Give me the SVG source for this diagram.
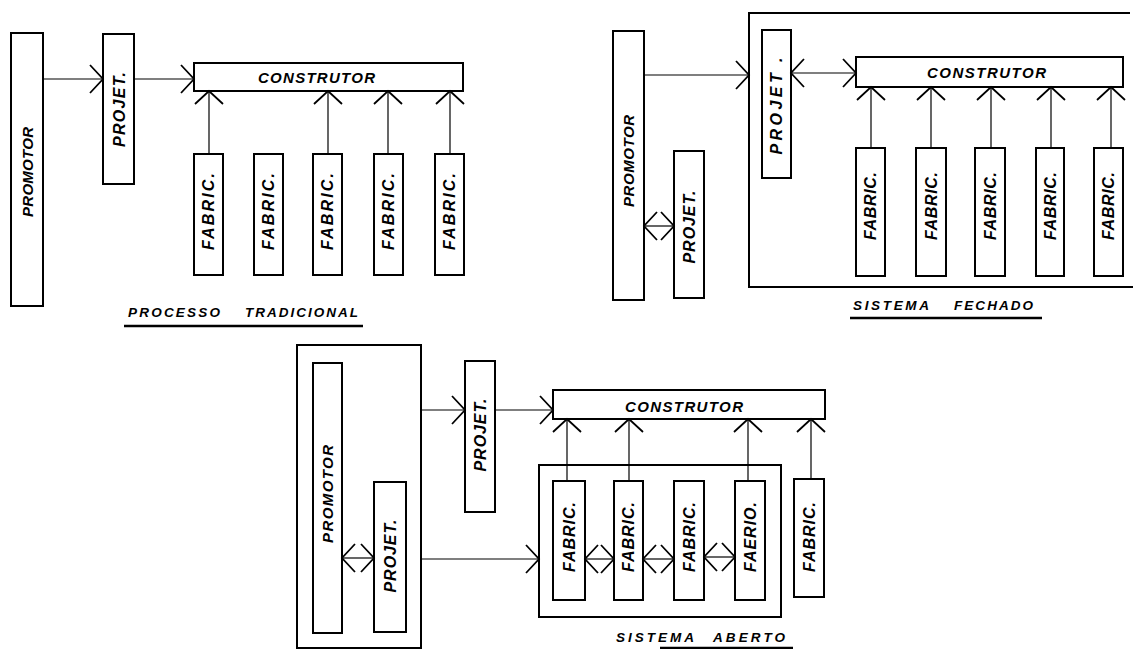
<svg xmlns="http://www.w3.org/2000/svg" width="1133" height="649" viewBox="0 0 1133 649">
  <style>
    .box { fill: none; stroke: #000; stroke-width: 2; }
    .wire { fill: none; stroke: #000; stroke-width: 1.2; }
    .to { marker-end: url(#head); }
    .both { marker-start: url(#head); marker-end: url(#head); }
    .lbl { font-family: "Liberation Sans", Arial, sans-serif; font-style: italic; font-weight: bold; font-size: 15px; fill: #000; }
    .big { font-size: 16px; }
    .cap { font-family: "Liberation Sans", Arial, sans-serif; font-style: italic; font-weight: bold; font-size: 13.5px; fill: #000; }
    .rule { stroke: #000; stroke-width: 2.5; }
  </style>
  <defs>
    <!-- open V arrowhead, drawn in user units so all heads share one size -->
    <marker id="head" markerUnits="userSpaceOnUse" viewBox="-16 -16 18 32" refX="0" refY="0" markerWidth="18" markerHeight="32" orient="auto-start-reverse">
      <path d="M-13,-14 L0,0 L-13,14" fill="none" stroke="#000" stroke-width="1.8"/>
    </marker>
  </defs>
  <rect width="1133" height="649" fill="#fff"/>

  <!-- ===== Processo tradicional ===== -->
  <g id="t-promotor">
    <rect class="box" x="11" y="33" width="32" height="273"/>
    <text class="lbl" transform="translate(27.5,172) rotate(-90)" x="0" y="5.4" text-anchor="middle" textLength="90" lengthAdjust="spacing">PROMOTOR</text>
  </g>
  <g id="t-projet">
    <rect class="box" x="103" y="34" width="31" height="150"/>
    <text class="lbl big" transform="translate(119,109.5) rotate(-90)" x="0" y="5.8" text-anchor="middle" textLength="75" lengthAdjust="spacing">PROJET.</text>
  </g>
  <g id="t-construtor">
    <rect class="box" x="194" y="63" width="269" height="28"/>
    <text class="lbl" x="258" y="83" textLength="117" lengthAdjust="spacing">CONSTRUTOR</text>
  </g>
  <g id="t-fabric-1">
    <rect class="box" x="194" y="154" width="29" height="121"/>
    <text class="lbl big" transform="translate(208.5,211.5) rotate(-90)" x="0" y="5.8" text-anchor="middle" textLength="77" lengthAdjust="spacing">FABRIC.</text>
  </g>
  <g id="t-fabric-2">
    <rect class="box" x="254" y="154" width="29" height="121"/>
    <text class="lbl big" transform="translate(268.5,211.5) rotate(-90)" x="0" y="5.8" text-anchor="middle" textLength="77" lengthAdjust="spacing">FABRIC.</text>
  </g>
  <g id="t-fabric-3">
    <rect class="box" x="313" y="154" width="29" height="121"/>
    <text class="lbl big" transform="translate(327.5,211.5) rotate(-90)" x="0" y="5.8" text-anchor="middle" textLength="77" lengthAdjust="spacing">FABRIC.</text>
  </g>
  <g id="t-fabric-4">
    <rect class="box" x="374" y="154" width="29" height="121"/>
    <text class="lbl big" transform="translate(388.5,211.5) rotate(-90)" x="0" y="5.8" text-anchor="middle" textLength="77" lengthAdjust="spacing">FABRIC.</text>
  </g>
  <g id="t-fabric-5">
    <rect class="box" x="435" y="154" width="29" height="121"/>
    <text class="lbl big" transform="translate(449.5,211.5) rotate(-90)" x="0" y="5.8" text-anchor="middle" textLength="77" lengthAdjust="spacing">FABRIC.</text>
  </g>
  <g id="t-caption">
    <text class="cap" x="128" y="317" textLength="92" lengthAdjust="spacing">PROCESSO</text>
    <text class="cap" x="245" y="317" textLength="113" lengthAdjust="spacing">TRADICIONAL</text>
    <line class="rule" x1="124" y1="326" x2="363" y2="326"/>
  </g>

  <!-- ===== Sistema fechado ===== -->
  <g id="f-enclosure">
    <path class="box" d="M1130,13 H749 V287 H1133"/>
  </g>
  <g id="f-promotor">
    <rect class="box" x="613" y="31" width="31" height="269"/>
    <text class="lbl" transform="translate(628.5,161) rotate(-90)" x="0" y="5.4" text-anchor="middle" textLength="92" lengthAdjust="spacing">PROMOTOR</text>
  </g>
  <g id="f-projet-own">
    <rect class="box" x="674" y="151" width="30" height="147"/>
    <text class="lbl big" transform="translate(689,227) rotate(-90)" x="0" y="5.8" text-anchor="middle" textLength="73" lengthAdjust="spacing">PROJET.</text>
  </g>
  <g id="f-projet">
    <rect class="box" x="762" y="30" width="29" height="148"/>
    <text class="lbl big" transform="translate(776.5,106) rotate(-90)" x="0" y="5.8" text-anchor="middle" textLength="97" lengthAdjust="spacing">PROJET .</text>
  </g>
  <g id="f-construtor">
    <rect class="box" x="856" y="57" width="267" height="30"/>
    <text class="lbl" x="927" y="78" textLength="119" lengthAdjust="spacing">CONSTRUTOR</text>
  </g>
  <g id="f-fabric-1">
    <rect class="box" x="856" y="148" width="29" height="128"/>
    <text class="lbl big" transform="translate(870.5,206) rotate(-90)" x="0" y="5.8" text-anchor="middle" textLength="68" lengthAdjust="spacing">FABRIC.</text>
  </g>
  <g id="f-fabric-2">
    <rect class="box" x="916" y="148" width="30" height="128"/>
    <text class="lbl big" transform="translate(931,206) rotate(-90)" x="0" y="5.8" text-anchor="middle" textLength="68" lengthAdjust="spacing">FABRIC.</text>
  </g>
  <g id="f-fabric-3">
    <rect class="box" x="975" y="148" width="30" height="128"/>
    <text class="lbl big" transform="translate(990,206) rotate(-90)" x="0" y="5.8" text-anchor="middle" textLength="68" lengthAdjust="spacing">FABRIC.</text>
  </g>
  <g id="f-fabric-4">
    <rect class="box" x="1036" y="148" width="28" height="128"/>
    <text class="lbl big" transform="translate(1050,206) rotate(-90)" x="0" y="5.8" text-anchor="middle" textLength="68" lengthAdjust="spacing">FABRIC.</text>
  </g>
  <g id="f-fabric-5">
    <rect class="box" x="1094" y="148" width="29" height="128"/>
    <text class="lbl big" transform="translate(1108.5,206) rotate(-90)" x="0" y="5.8" text-anchor="middle" textLength="68" lengthAdjust="spacing">FABRIC.</text>
  </g>
  <g id="f-caption">
    <text class="cap" x="853" y="310" textLength="76" lengthAdjust="spacing">SISTEMA</text>
    <text class="cap" x="954" y="310" textLength="79" lengthAdjust="spacing">FECHADO</text>
    <line class="rule" x1="850" y1="318" x2="1042" y2="318"/>
  </g>

  <!-- ===== Sistema aberto ===== -->
  <g id="a-owner">
    <rect class="box" x="297" y="345" width="124" height="303"/>
  </g>
  <g id="a-promotor">
    <rect class="box" x="313" y="363" width="29" height="270"/>
    <text class="lbl" transform="translate(327.5,494) rotate(-90)" x="0" y="5.4" text-anchor="middle" textLength="98" lengthAdjust="spacing">PROMOTOR</text>
  </g>
  <g id="a-projet-own">
    <rect class="box" x="374" y="482" width="32" height="150"/>
    <text class="lbl big" transform="translate(390,556) rotate(-90)" x="0" y="5.8" text-anchor="middle" textLength="73" lengthAdjust="spacing">PROJET.</text>
  </g>
  <g id="a-projet">
    <rect class="box" x="465" y="361" width="30" height="151"/>
    <text class="lbl big" transform="translate(480,435) rotate(-90)" x="0" y="5.8" text-anchor="middle" textLength="73" lengthAdjust="spacing">PROJET.</text>
  </g>
  <g id="a-construtor">
    <rect class="box" x="553" y="390" width="272" height="29"/>
    <text class="lbl" x="625" y="412" textLength="118" lengthAdjust="spacing">CONSTRUTOR</text>
  </g>
  <g id="a-group">
    <rect class="box" x="539" y="465" width="242" height="152"/>
  </g>
  <g id="a-fabric-1">
    <rect class="box" x="553" y="481" width="32" height="119"/>
    <text class="lbl big" transform="translate(569,537) rotate(-90)" x="0" y="5.8" text-anchor="middle" textLength="70" lengthAdjust="spacing">FABRIC.</text>
  </g>
  <g id="a-fabric-2">
    <rect class="box" x="614" y="481" width="29" height="119"/>
    <text class="lbl big" transform="translate(628.5,537) rotate(-90)" x="0" y="5.8" text-anchor="middle" textLength="70" lengthAdjust="spacing">FABRIC.</text>
  </g>
  <g id="a-fabric-3">
    <rect class="box" x="674" y="481" width="30" height="119"/>
    <text class="lbl big" transform="translate(689,537) rotate(-90)" x="0" y="5.8" text-anchor="middle" textLength="70" lengthAdjust="spacing">FABRIC.</text>
  </g>
  <g id="a-fabric-4">
    <rect class="box" x="735" y="481" width="30" height="119"/>
    <text class="lbl big" transform="translate(750,537) rotate(-90)" x="0" y="5.8" text-anchor="middle" textLength="70" lengthAdjust="spacing">FAERIO.</text>
  </g>
  <g id="a-fabric-5">
    <rect class="box" x="794" y="479" width="30" height="118"/>
    <text class="lbl big" transform="translate(809,537) rotate(-90)" x="0" y="5.8" text-anchor="middle" textLength="70" lengthAdjust="spacing">FABRIC.</text>
  </g>
  <g id="a-caption">
    <text class="cap" x="616" y="642" textLength="78" lengthAdjust="spacing">SISTEMA</text>
    <text class="cap" x="713" y="642" textLength="72" lengthAdjust="spacing">ABERTO</text>
    <line class="rule" x1="660" y1="648" x2="793" y2="648"/>
  </g>

  <!-- ===== connectors ===== -->
  <g id="connectors">
    <!-- tradicional -->
    <line class="wire to" x1="43" y1="79" x2="103" y2="79"/>
    <line class="wire to" x1="134" y1="79" x2="194" y2="79"/>
    <line class="wire to" x1="209" y1="154" x2="209" y2="91"/>
    <line class="wire to" x1="328" y1="154" x2="328" y2="91"/>
    <line class="wire to" x1="388" y1="154" x2="388" y2="91"/>
    <line class="wire to" x1="450" y1="154" x2="450" y2="91"/>
    <!-- fechado -->
    <line class="wire both" x1="644" y1="226" x2="674" y2="226"/>
    <line class="wire to" x1="644" y1="75" x2="749" y2="75"/>
    <line class="wire both" x1="791" y1="73" x2="856" y2="73"/>
    <line class="wire to" x1="871" y1="148" x2="871" y2="87"/>
    <line class="wire to" x1="931" y1="148" x2="931" y2="87"/>
    <line class="wire to" x1="991" y1="148" x2="991" y2="87"/>
    <line class="wire to" x1="1051" y1="148" x2="1051" y2="87"/>
    <line class="wire to" x1="1111" y1="148" x2="1111" y2="87"/>
    <!-- aberto -->
    <line class="wire both" x1="342" y1="558" x2="374" y2="558"/>
    <line class="wire to" x1="421" y1="410" x2="465" y2="410"/>
    <line class="wire to" x1="495" y1="410" x2="553" y2="410"/>
    <line class="wire to" x1="421" y1="559" x2="539" y2="559"/>
    <line class="wire to" x1="567" y1="481" x2="567" y2="419"/>
    <line class="wire to" x1="629" y1="481" x2="629" y2="419"/>
    <line class="wire to" x1="748" y1="481" x2="748" y2="419"/>
    <line class="wire to" x1="811" y1="479" x2="811" y2="419"/>
    <line class="wire both" x1="585" y1="559" x2="614" y2="559"/>
    <line class="wire both" x1="643" y1="559" x2="674" y2="559"/>
    <line class="wire both" x1="704" y1="557" x2="735" y2="557"/>
  </g>
</svg>
